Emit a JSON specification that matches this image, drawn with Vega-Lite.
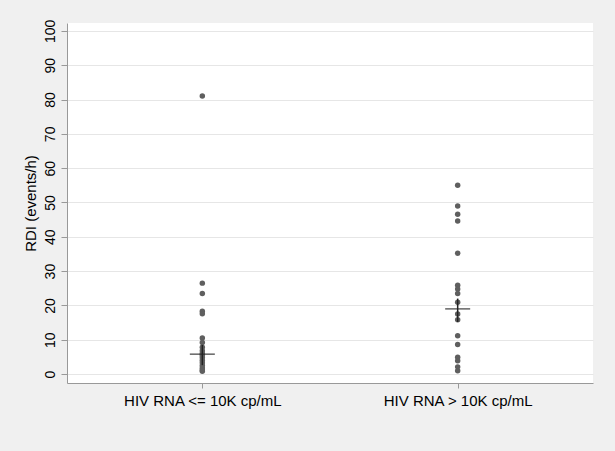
{
  "$schema": "https://vega.github.io/schema/vega-lite/v6.json",
  "width": 526,
  "height": 360,
  "autosize": {"type": "none"},
  "padding": {"left": 67, "top": 23, "right": 22, "bottom": 68},
  "background": "#f0f0f0",
  "config": {
    "view": {"fill": "white", "stroke": null},
    "font": "Liberation Sans"
  },
  "datasets": {
    "points": [
      {"group": "HIV RNA <= 10K cp/mL", "rdi": 81},
      {"group": "HIV RNA <= 10K cp/mL", "rdi": 26.5},
      {"group": "HIV RNA <= 10K cp/mL", "rdi": 23.5},
      {"group": "HIV RNA <= 10K cp/mL", "rdi": 18.3},
      {"group": "HIV RNA <= 10K cp/mL", "rdi": 17.6},
      {"group": "HIV RNA <= 10K cp/mL", "rdi": 10.5},
      {"group": "HIV RNA <= 10K cp/mL", "rdi": 9.2},
      {"group": "HIV RNA <= 10K cp/mL", "rdi": 7.8},
      {"group": "HIV RNA <= 10K cp/mL", "rdi": 6.8},
      {"group": "HIV RNA <= 10K cp/mL", "rdi": 6.0},
      {"group": "HIV RNA <= 10K cp/mL", "rdi": 5.5},
      {"group": "HIV RNA <= 10K cp/mL", "rdi": 4.8},
      {"group": "HIV RNA <= 10K cp/mL", "rdi": 4.0},
      {"group": "HIV RNA <= 10K cp/mL", "rdi": 3.3},
      {"group": "HIV RNA <= 10K cp/mL", "rdi": 2.5},
      {"group": "HIV RNA <= 10K cp/mL", "rdi": 1.8},
      {"group": "HIV RNA <= 10K cp/mL", "rdi": 1.2},
      {"group": "HIV RNA <= 10K cp/mL", "rdi": 0.8},
      {"group": "HIV RNA > 10K cp/mL", "rdi": 55},
      {"group": "HIV RNA > 10K cp/mL", "rdi": 49},
      {"group": "HIV RNA > 10K cp/mL", "rdi": 46.6},
      {"group": "HIV RNA > 10K cp/mL", "rdi": 44.6},
      {"group": "HIV RNA > 10K cp/mL", "rdi": 35.2},
      {"group": "HIV RNA > 10K cp/mL", "rdi": 25.9},
      {"group": "HIV RNA > 10K cp/mL", "rdi": 24.8},
      {"group": "HIV RNA > 10K cp/mL", "rdi": 23.5},
      {"group": "HIV RNA > 10K cp/mL", "rdi": 20.9},
      {"group": "HIV RNA > 10K cp/mL", "rdi": 17.5},
      {"group": "HIV RNA > 10K cp/mL", "rdi": 15.8},
      {"group": "HIV RNA > 10K cp/mL", "rdi": 11.2},
      {"group": "HIV RNA > 10K cp/mL", "rdi": 8.6},
      {"group": "HIV RNA > 10K cp/mL", "rdi": 4.9},
      {"group": "HIV RNA > 10K cp/mL", "rdi": 3.9},
      {"group": "HIV RNA > 10K cp/mL", "rdi": 2.1},
      {"group": "HIV RNA > 10K cp/mL", "rdi": 1.0}
    ],
    "medians": [
      {"group": "HIV RNA <= 10K cp/mL", "rdi": 5.8},
      {"group": "HIV RNA > 10K cp/mL", "rdi": 19.0}
    ],
    "ranges": [
      {"group": "HIV RNA <= 10K cp/mL", "rdi": 2.6, "hi": 8.5},
      {"group": "HIV RNA > 10K cp/mL", "rdi": 15.2, "hi": 22.0}
    ]
  },
  "encoding": {
    "x": {
      "field": "group",
      "type": "nominal",
      "sort": null,
      "scale": {"type": "point", "padding": 0.53},
      "axis": {
        "title": null,
        "labelAngle": 0,
        "labelFontSize": 15,
        "labelColor": "#000",
        "labelPadding": 5,
        "labelOverlap": false,
        "tickSize": 5,
        "tickColor": "#999",
        "domainColor": "#999",
        "grid": false
      }
    },
    "y": {
      "field": "rdi",
      "type": "quantitative",
      "scale": {"domain": [-2.6, 102.3], "nice": false, "zero": false},
      "axis": {
        "title": "RDI (events/h)",
        "titleFontSize": 15,
        "titleFontWeight": "normal",
        "titleColor": "#000",
        "titlePadding": 5,
        "values": [0, 10, 20, 30, 40, 50, 60, 70, 80, 90, 100],
        "labelAngle": -90,
        "labelAlign": "center",
        "labelBaseline": "bottom",
        "labelFontSize": 14,
        "labelColor": "#000",
        "labelPadding": 4,
        "labelOverlap": false,
        "tickSize": 6,
        "tickColor": "#999",
        "domainColor": "#999",
        "gridColor": "#e6e6e6",
        "grid": true
      }
    }
  },
  "layer": [
    {
      "data": {"name": "points"},
      "mark": {"type": "circle", "size": 30, "color": "#5f5f5f", "opacity": 1}
    },
    {
      "data": {"name": "ranges"},
      "mark": {"type": "rule", "color": "#222", "strokeWidth": 1.5},
      "encoding": {
        "y2": {"field": "hi"}
      }
    },
    {
      "data": {"name": "medians"},
      "mark": {"type": "tick", "orient": "horizontal", "size": 25, "thickness": 1.5, "color": "#222"}
    }
  ]
}
